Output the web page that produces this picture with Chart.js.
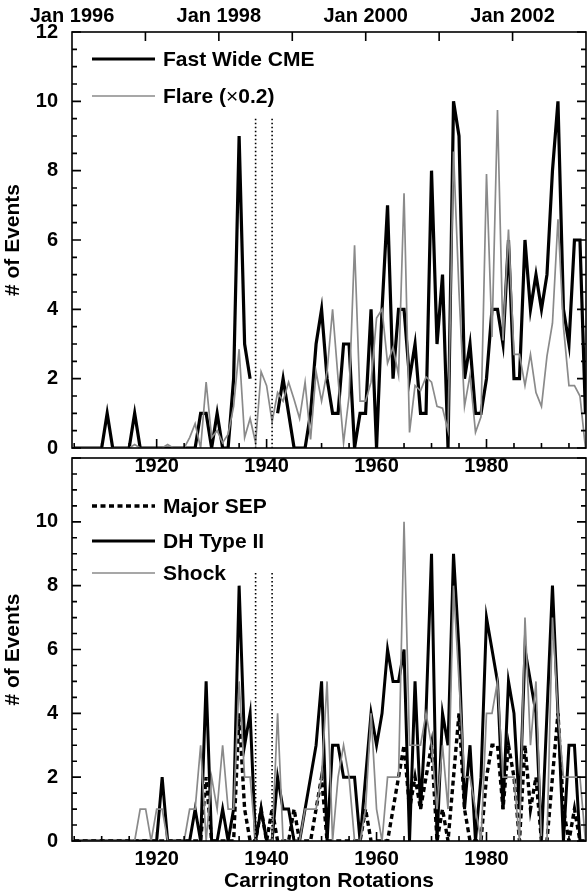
<!DOCTYPE html>
<html>
<head>
<meta charset="utf-8">
<script src="https://cdn.jsdelivr.net/npm/chart.js@4.4.1/dist/chart.umd.min.js"></script>
<style>
  html, body { margin: 0; padding: 0; background: #fff; }
  #wrap { position: relative; width: 587px; height: 896px; }
  canvas { position: absolute; left: 0; }
  #cTop { top: 0; }
  #cBot { top: 440px; }
</style>
</head>
<body>
<div id="wrap">
  <canvas id="cBot" width="587" height="456"></canvas>
  <canvas id="cTop" width="587" height="480"></canvas>
</div>
<script>
'use strict';

/* ── data: one value per Carrington rotation ── */
const CR = [
  1905, 1906, 1907, 1908, 1909, 1910, 1911, 1912, 1913, 1914, 1915, 1916, 1917, 1918, 1919, 1920,
  1921, 1922, 1923, 1924, 1925, 1926, 1927, 1928, 1929, 1930, 1931, 1932, 1933, 1934, 1935, 1936,
  1937, 1938, 1939, 1940, 1941, 1942, 1943, 1944, 1945, 1946, 1947, 1948, 1949, 1950, 1951, 1952,
  1953, 1954, 1955, 1956, 1957, 1958, 1959, 1960, 1961, 1962, 1963, 1964, 1965, 1966, 1967, 1968,
  1969, 1970, 1971, 1972, 1973, 1974, 1975, 1976, 1977, 1978, 1979, 1980, 1981, 1982, 1983, 1984,
  1985, 1986, 1987, 1988, 1989, 1990, 1991, 1992, 1993, 1994, 1995, 1996, 1997, 1998
];

// top panel
const FAST_WIDE_CME = [
  0, 0, 0, 0, 0, 0, 1, 0, 0, 0, 0, 1,
  0, 0, 0, 0, 0, 0, 0, 0, 0, 0, 0,
  1, 1, 0, 1, 0, 0, 2, 9, 3, 2,
  null, null, null, null,
  1, 2, 1, 0, 0, 0, 1, 3, 4, 2,
  1, 1, 3, 3, 0, 1, 1, 4, 0, 4,
  7, 2, 4, 4, 2, 3, 1, 1, 8, 3,
  5, 0, 10, 9, 2, 3, 1, 1, 2, 4,
  4, 3, 6, 2, 2, 6, 4, 5, 4, 5,
  8, 10, 4, 3, 6, 6, 1
];
const FLARE_X02 = [
  0, 0, 0, 0, 0, 0, 0, 0, 0, 0, 0, 0.1,
  0, 0, 0, 0, 0, 0.1, 0, 0, 0,
  0.3, 0.7, 0, 1.9, 0.3, 0.5, 0.15, 0.4, 1.2, 2.85,
  0.3, 0.85, 0.15, 2.2, 1.8, 0.75, 1.6, 1.35, 1.9, 1.4,
  0.85, 1.9, 0.25, 2.2, 1.35, 2.2, 4.0, 2.0, 0.15, 1.5,
  5.85, 1.35, 1.35, 1.9, 3.75, 4.0, 2.45, 2.9, 2.1, 7.35,
  0.45, 1.8, 1.65, 2.05, 1.9, 1.2, 1.15, 0.5, 8.55, 4.5,
  1.2, 2.1, 0.45, 0.9, 7.9, 3.2, 9.75, 3.1, 6.3, 2.7,
  2.7, 1.8, 2.7, 1.6, 1.2, 2.65, 3.6, 6.6, 3.5, 1.8,
  1.8, 1.5, 0
];

// bottom panel
const MAJOR_SEP = [
  0, 0, 0, 0, 0, 0, 0, 0, 0, 0, 0, 0, 0, 0, 0, 0, 0, 0, 0, 0, 0, 0, 0, 0,
  2, 0, 0, 0, 0, 0, 4, 1, 0, 0,
  1, 0, 1, 0, 0, 0, 1, 0, 0, 0,
  1, 2, 0, 0, 0, 0, 0, 0, 0, 1,
  0, 0, 0, 0, 1, 2, 3, 1, 2, 1,
  2, 3, 0, 1, 0, 2, 4, 1, 0, 0,
  0, 2, 3, 3, 1, 3, 2, 0, 3, 1,
  2, 0, 0, 2, 4, 1, 0, 1, 0, 0
];
const DH_TYPE_II = [
  0, 0, 0, 0, 0, 0, 0, 0, 0, 0, 0, 0, 0, 0, 0, 0,
  2, 0, 0, 0, 0, 0,
  1, 0, 5, 0, 0, 1, 0, 1, 8, 3,
  4, 0, 1, 0, 0, 2, 1, 1, 0, 0,
  1, 2, 3, 5, 0, 3, 3, 2, 2, 2,
  0, 2, 4, 3, 4, 6, 5, 5, 6, 0,
  5, 1, 4, 9, 0, 4, 3, 9, 6, 1,
  3, 0, 2, 7, 6, 5, 1, 5, 4, 1,
  6, 5, 4, 0, 4, 8, 4, 0, 3, 3,
  0, 0
];
const SHOCK = [
  0, 0, 0, 0, 0, 0, 0, 0, 0, 0, 0, 0,
  1, 1, 0, 1, 1, 0, 0, 0, 0, 1,
  1, 3, 0, 2, 1, 3, 1, 1, 5, 2,
  2, 0, 0, 0, 0, 4, 0, 0, 0, 0,
  1, 1, 1, 2, 5, 0, 2, 3, 2, 0,
  0, 1, 4, 1, 0, 2, 2, 2, 10, 3,
  3, 3, 4, 3, 1, 3, 1, 8, 5, 2,
  2, 1, 0, 4, 4, 5, 2, 2, 2, 0,
  7, 3, 5, 0, 0, 7, 4, 2, 2, 2,
  2, 0
];

/* ── axes ── */
const CR_MIN = 1904.6, CR_MAX = 1998.1;      // Jan 1996 .. Jan 2003
const YEAR_MIN = 1996, YEAR_MAX = 2003;
const CR_LABELS = [1920, 1940, 1960, 1980];
const YEAR_LABELS = [1996, 1998, 2000, 2002];
const GAP_CR = [1938, 1941];                  // SOHO interruption markers

const FONT = "'Liberation Sans', Arial, Helvetica, sans-serif";
const GREY = '#8a8a8a';

function pts(vals) {
  return CR.map((c, i) => ({ x: c, y: vals[i] }));
}

/* frame + inward tick marks, dotted gap markers, legend */
const frameTicks = {
  id: 'frameTicks',
  afterDatasetsDraw(chart, args, o) {
    const { ctx, chartArea: a, scales } = chart;
    const x = scales.x, y = scales.y;
    ctx.save();

    // dotted markers
    ctx.strokeStyle = '#000';
    ctx.lineWidth = 1.6;
    ctx.setLineDash([1.6, 2.4]);
    ctx.beginPath();
    GAP_CR.forEach(c => {
      const px = x.getPixelForValue(c);
      ctx.moveTo(px, y.getPixelForValue(o.gapTop));
      ctx.lineTo(px, a.bottom);
    });
    ctx.stroke();
    ctx.setLineDash([]);

    // frame
    ctx.lineWidth = 1.6;
    ctx.strokeRect(a.left, a.top, a.right - a.left, a.bottom - a.top);

    ctx.beginPath();
    for (let v = 0; v <= 12; v += 0.5) {
      const py = y.getPixelForValue(v);
      const len = v % 2 === 0 ? 9 : 5;
      ctx.moveTo(a.left, py);  ctx.lineTo(a.left + len, py);
      ctx.moveTo(a.right, py); ctx.lineTo(a.right - len, py);
    }
    for (let c = 1905; c <= 1995; c += 5) {
      const px = x.getPixelForValue(c);
      const len = c % 20 === 0 ? 9 : 5;
      ctx.moveTo(px, a.bottom); ctx.lineTo(px, a.bottom - len);
    }
    if (scales.xTop) {
      for (let yr = YEAR_MIN + 1; yr < YEAR_MAX; yr++) {
        const px = scales.xTop.getPixelForValue(yr);
        ctx.moveTo(px, a.top); ctx.lineTo(px, a.top + 9);
      }
    }
    ctx.stroke();

    // legend
    ctx.textBaseline = 'middle';
    ctx.fillStyle = '#000';
    o.legend.forEach(item => {
      ctx.strokeStyle = item.color;
      ctx.lineWidth = item.width;
      ctx.setLineDash(item.dash || []);
      ctx.beginPath();
      ctx.moveTo(92, item.y);
      ctx.lineTo(155, item.y);
      ctx.stroke();
      let tx = 163;
      item.text.forEach(part => {
        ctx.font = (part.bold === false ? '' : 'bold ') + '21px ' + FONT;
        ctx.fillText(part.t, tx, item.y + 1);
        tx += ctx.measureText(part.t).width;
      });
    });
    ctx.restore();
  }
};

const tickFont = { family: FONT, size: 20, weight: 'bold' };
const titleFont = { family: FONT, size: 21, weight: 'bold' };

function yScale(labels, width) {
  return {
    min: 0, max: 12,
    grid: { display: false }, border: { display: false },
    afterBuildTicks: s => { s.ticks = labels.map(v => ({ value: v })); },
    afterFit: s => { s.width = width; },
    ticks: { color: '#000', font: tickFont, padding: 6 },
    title: { display: true, text: '# of Events', color: '#000', font: titleFont,
             padding: { top: 1, bottom: 0 } }
  };
}

function xScale(height, padding, title) {
  return {
    type: 'linear', position: 'bottom', min: CR_MIN, max: CR_MAX,
    grid: { display: false }, border: { display: false },
    afterBuildTicks: s => { s.ticks = CR_LABELS.map(v => ({ value: v })); },
    afterFit: s => { s.height = height; },
    ticks: { color: '#000', font: tickFont, padding: padding, maxRotation: 0, autoSkip: false,
             callback: v => String(v) },
    title: title ? { display: true, text: title, color: '#000', font: titleFont,
                     padding: { top: 0, bottom: 2 } }
                 : { display: false }
  };
}

const common = {
  responsive: false,
  animation: false,
  events: [],
  plugins: { legend: { display: false }, tooltip: { enabled: false } },
  elements: { point: { radius: 0 }, line: { tension: 0 } }
};

/* top panel: fast wide CMEs and flares */
new Chart(document.getElementById('cTop'), {
  type: 'line',
  data: {
    datasets: [
      { data: pts(FLARE_X02), borderColor: GREY, borderWidth: 1.7, order: 0 },
      { data: pts(FAST_WIDE_CME), borderColor: '#000', borderWidth: 3.2, spanGaps: false, order: 1 }
    ]
  },
  options: Object.assign({}, common, {
    layout: { padding: { left: 0, right: 1, top: 0, bottom: 0 } },
    scales: {
      x: xScale(32, -2, null),
      xTop: {
        type: 'linear', position: 'top', min: YEAR_MIN, max: YEAR_MAX,
        grid: { display: false }, border: { display: false },
        afterBuildTicks: s => { s.ticks = YEAR_LABELS.map(v => ({ value: v })); },
        afterFit: s => { s.height = 32; },
        ticks: { color: '#000', font: tickFont, padding: -4, maxRotation: 0, autoSkip: false,
                 callback: v => 'Jan ' + v }
      },
      y: yScale([0, 2, 4, 6, 8, 10, 12], 72)
    },
    plugins: Object.assign({}, common.plugins, {
      frameTicks: {
        gapTop: 9.5,
        legend: [
          { text: [{ t: 'Fast Wide CME' }], color: '#000', width: 3.2, y: 59 },
          { text: [{ t: 'Flare (' }, { t: '×', bold: false }, { t: '0.2)' }], color: GREY, width: 1.7, y: 96 }
        ]
      }
    })
  }),
  plugins: [frameTicks]
});

/* bottom panel: SEPs, DH type II bursts and shocks */
new Chart(document.getElementById('cBot'), {
  type: 'line',
  data: {
    datasets: [
      { data: pts(SHOCK), borderColor: GREY, borderWidth: 1.7, order: 0 },
      { data: pts(DH_TYPE_II), borderColor: '#000', borderWidth: 3, order: 1 },
      { data: pts(MAJOR_SEP), borderColor: '#000', borderWidth: 3.4, borderDash: [5, 3.5], order: 2 }
    ]
  },
  options: Object.assign({}, common, {
    layout: { padding: { left: 0, right: 1, top: 8, bottom: 0 } },
    scales: {
      x: xScale(55, -2, 'Carrington Rotations'),
      y: yScale([0, 2, 4, 6, 8, 10], 72)
    },
    plugins: Object.assign({}, common.plugins, {
      frameTicks: {
        gapTop: 8.4,
        legend: [
          { text: [{ t: 'Major SEP' }], color: '#000', width: 3.4, dash: [5, 3.5], y: 66 },
          { text: [{ t: 'DH Type II' }], color: '#000', width: 3, y: 101 },
          { text: [{ t: 'Shock' }], color: GREY, width: 1.7, y: 133 }
        ]
      }
    })
  }),
  plugins: [frameTicks]
});
</script>
</body>
</html>
